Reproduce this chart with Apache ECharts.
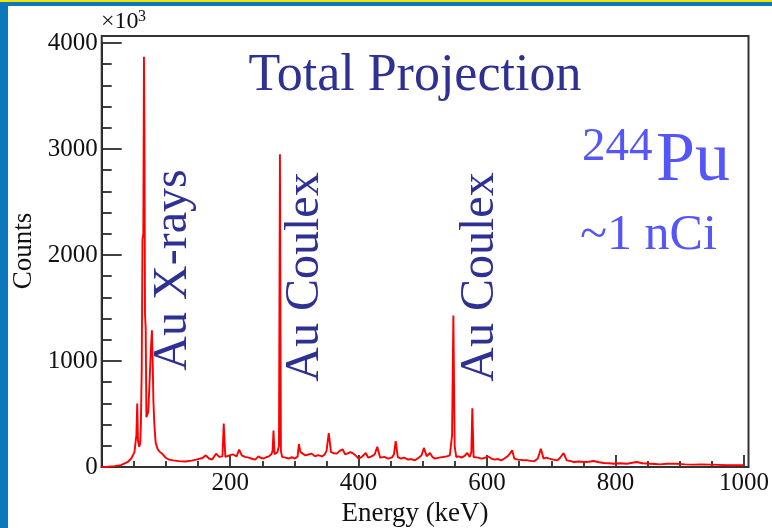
<!DOCTYPE html>
<html>
<head>
<meta charset="utf-8">
<script src="https://cdn.jsdelivr.net/npm/echarts@6/dist/echarts.min.js"></script>
<style>
html,body{margin:0;padding:0;width:772px;height:528px;overflow:hidden;background:#0B78BE;}
#stripe{position:absolute;left:0;top:0;width:772px;height:2px;background:#F4E200;}
#paper{position:absolute;left:8px;top:6px;width:764px;height:522px;background:#ffffff;}
#chart{position:absolute;left:0;top:0;width:772px;height:528px;}
</style>
</head>
<body>
<div id="stripe"></div>
<div id="paper"></div>
<div id="chart"></div>
<script>
// Energy (keV) sample points of the spectrum
const energy = [0,10,20,30,40,46,51,54,55.3,56.5,58.5,60,61,62.3,63.5,64.8,65.8,66.6,67.4,68.5,69.6,71,72.5,74.5,76.5,78.2,79.5,80.5,82,84,87,90,95,100,105,111,120,130,140,147,157,162,167,172,178,183,188,190,192.5,199,204,210,214,218,223,229,234,239,244,248,252,256,260,264,266,267.5,269,271,273.5,276,277.5,279,281,286,291,296,301,305,307,309.5,312,317,322,327,332,337,343,347,350,353.5,357,361,366,370,375,379,383,387,392,396,400,405,411,415,420,425,429,433.5,440,446,452,455,457.7,461,466,471,477,482,487.7,494,498,501.6,506,511,515,518.6,525,531.5,537,542,545.5,547.5,549.5,552,556,560,565,569,573,575.5,577,579,582,586,591,596,601,606,611.5,617,622,627,632,636,639,642.5,648,655,663,668,673.4,679,683.7,688,692,697,703,709.5,714,719,724,730,735,743,751,758,766,774,782,790,797,806,818,826,833,842,854,862,869.5,880,895,908,921,934,947,960,973,986,1000];
// Counts (x10^3) at those energies
const counts = [0,2,8,18,45,80,140,300,600,250,190,230,400,910,2150,2200,3870,3050,1450,1300,470,460,520,800,1100,1290,950,620,400,230,170,145,120,85,70,62,55,52,60,70,85,110,80,70,126,95,100,410,95,110,120,100,165,110,95,88,78,70,100,85,80,92,100,120,150,345,120,110,140,200,2950,150,95,88,80,92,80,100,215,140,157,110,118,126,100,112,100,118,150,320,141,130,126,150,167,119,128,141,126,105,79,95,132,88,100,118,190,88,95,79,90,120,245,94,80,88,69,75,63,90,110,180,101,132,95,79,88,94,100,110,300,1430,200,94,100,88,105,132,94,140,555,94,85,88,79,85,101,82,69,75,63,80,101,130,157,79,70,66,63,58,54,80,173,79,88,79,70,63,90,132,63,55,47,52,47,50,57,45,38,35,31,36,31,40,47,35,31,28,25,30,31,25,22,24,22,20,16,18,16];
// Axis tick values
const xTicks = [200,400,600,800,1000];
const yTicks = [0,1000,2000,3000,4000];
const labels = ['Au X-rays','Au Coulex','Au Coulex'];

const serif = 'Liberation Serif';
const dark = '#2E3192';
const light = '#5656F8';
const chart = echarts.init(document.getElementById('chart'), null, {renderer:'canvas'});
const GL = 101.7, GR = 748.5, GB = 467, GT = 43, FT = 36;
chart.setOption({
  animation:false,
  backgroundColor:'transparent',
  grid:{left:GL, right:772-GR, top:GT, bottom:528-GB, show:false},
  xAxis:{
    type:'value', min:0, max:1000, interval:200,
    axisLine:{lineStyle:{color:'#111', width:2}},
    axisTick:{inside:true, length:12, lineStyle:{color:'#111', width:1.6}},
    minorTick:{show:true, splitNumber:4, length:6, lineStyle:{color:'#111', width:1.6}},
    splitLine:{show:false},
    axisLabel:{fontFamily:serif, fontSize:25, color:'#111', margin:4,
      formatter:v => xTicks.includes(v) ? String(v) : ''}
  },
  yAxis:{
    type:'value', min:0, max:4000, interval:1000,
    axisLine:{lineStyle:{color:'#111', width:2}},
    axisTick:{inside:true, length:20, lineStyle:{color:'#111', width:1.6}},
    minorTick:{show:true, splitNumber:5, length:10, lineStyle:{color:'#111', width:1.6}},
    splitLine:{show:false},
    axisLabel:{fontFamily:serif, fontSize:25, color:'#111', margin:4,
      formatter:v => yTicks.includes(v) ? String(v) : ''}
  },
  series:[{
    type:'line', showSymbol:false, symbol:'none',
    data: energy.map((e,i)=>[e, counts[i]]),
    lineStyle:{color:'#FF0000', width:1.9}, clip:true, z:3
  }],
  graphic:[
    {type:'rect', shape:{x:GL, y:FT, width:GR-GL, height:GB-FT}, style:{fill:'none', stroke:'#333', lineWidth:2}, z:1, silent:true},
    {type:'text', x:101, y:34, style:{text:'×10', font:'24px "Liberation Serif"', fill:'#111', textAlign:'left', textVerticalAlign:'bottom'}},
    {type:'text', x:138, y:25, style:{text:'3', font:'16px "Liberation Serif"', fill:'#111', textAlign:'left', textVerticalAlign:'bottom'}},
    {type:'text', x:24, y:251, rotation:Math.PI/2, style:{text:'Counts', font:'27px "Liberation Serif"', fill:'#111', textAlign:'center', textVerticalAlign:'middle'}},
    {type:'text', x:415, y:514, style:{text:'Energy (keV)', font:'27px "Liberation Serif"', fill:'#111', textAlign:'center', textVerticalAlign:'middle'}},
    {type:'text', x:415, y:76, style:{text:'Total Projection', font:'52px "Liberation Serif"', fill:dark, textAlign:'center', textVerticalAlign:'middle'}},
    {type:'text', x:582, y:148, style:{text:'244', font:'47px "Liberation Serif"', fill:light, textAlign:'left', textVerticalAlign:'middle'}},
    {type:'text', x:656, y:162, style:{text:'Pu', font:'70px "Liberation Serif"', fill:light, textAlign:'left', textVerticalAlign:'middle'}},
    {type:'text', x:580, y:236, style:{text:'~1 nCi', font:'50px "Liberation Serif"', fill:light, textAlign:'left', textVerticalAlign:'middle'}},
    {type:'text', x:173, y:270, rotation:Math.PI/2, style:{text:labels[0], font:'48px "Liberation Serif"', fill:dark, textAlign:'center', textVerticalAlign:'middle'}},
    {type:'text', x:305, y:277, rotation:Math.PI/2, style:{text:labels[1], font:'48px "Liberation Serif"', fill:dark, textAlign:'center', textVerticalAlign:'middle'}},
    {type:'text', x:480, y:277, rotation:Math.PI/2, style:{text:labels[2], font:'48px "Liberation Serif"', fill:dark, textAlign:'center', textVerticalAlign:'middle'}}
  ]
});
</script>
</body>
</html>
